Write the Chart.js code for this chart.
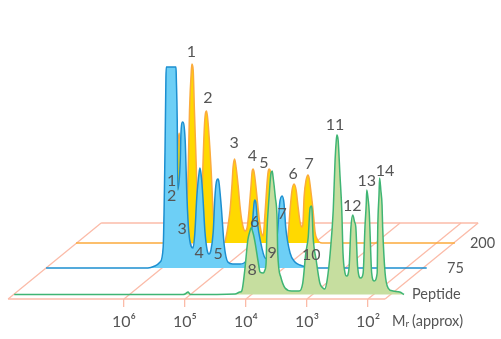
<!DOCTYPE html>
<html>

<head>
  <script src="https://cdn.jsdelivr.net/npm/chart.js"></script>
  <style>
    body { margin: 0; background: #fff; }
  </style>
</head>

<body>
  <canvas id="myChart" width="501" height="339"></canvas>
  <script>
    // log10(Mr) along the floor, peak height above each run's own baseline
    const orangeMr = [7.91, 6.53, 6.37, 6.31, 6.25, 6.22, 6.19, 6.16, 6.11, 6.07, 6.05, 6.02, 6.01, 5.99, 5.97, 5.94, 5.91, 5.86, 5.83, 5.80, 5.77, 5.75, 5.70, 5.66, 5.62, 5.52, 5.47, 5.451, 5.418, 5.385, 5.352, 5.336, 5.311, 5.287, 5.254, 5.221, 5.189, 5.139, 5.107, 5.074, 5.041, 5.025, 5.008, 4.992, 4.959, 4.926, 4.893, 4.844, 4.811, 4.779, 4.762, 4.746, 4.730, 4.697, 4.648, 4.598, 4.549, 4.484, 4.434, 4.402, 4.369, 4.336, 4.303, 4.270, 4.238, 4.205, 4.189, 4.172, 4.139, 4.107, 4.090, 4.057, 4.025, 3.992, 3.959, 3.877, 1.70];
    const orangeHeight = [0, 0, 0, 43, 93, 110, 83, 23, 18, 78, 133, 173, 179, 173, 133, 78, 18, 8, 78, 123, 132, 123, 78, 28, 3, 0, 1, 6, 18, 33, 60, 76, 84, 76, 58, 36, 21, 12, 15, 33, 58, 71, 74, 71, 55, 35, 17, 7, 31, 60, 71, 74, 73, 58, 26, 8, 2, 0, 8, 33, 53, 59, 53, 36, 21, 16, 21, 46, 63, 68, 65, 50, 33, 11, 4, 0, 0];

    const blueMr = [7.90, 6.23, 6.115, 6.03, 5.98, 5.95, 5.935, 5.93, 5.77, 5.765, 5.75, 5.74, 5.70, 5.69, 5.66, 5.62, 5.59, 5.56, 5.49, 5.46, 5.43, 5.39, 5.377, 5.352, 5.328, 5.295, 5.26, 5.23, 5.197, 5.16, 5.13, 5.10, 5.08, 5.066, 5.03, 4.98, 4.92, 4.84, 4.72, 4.61, 4.56, 4.52, 4.49, 4.48, 4.46, 4.43, 4.39, 4.31, 4.20, 4.13, 4.10, 4.07, 4.03, 4.00, 3.97, 3.90, 3.82, 3.74, 3.61, 3.49, 1.66];
    const blueHeight = [0, 0, 2, 6, 21, 118, 190, 201, 201, 190, 148, 78, 108, 133, 146, 128, 70, 36, 20, 36, 70, 96, 100, 90, 70, 36, 18, 14, 18, 36, 73, 88, 89, 86, 63, 23, 6, 4, 4, 8, 23, 43, 65, 68, 65, 43, 28, 10, 8, 23, 40, 65, 72, 65, 40, 15, 6, 3, 1, 0, 0];

    const greenMr = [7.89, 5.12, 5.09, 5.04, 5.01, 4.98, 4.27, 4.19, 4.16, 4.11, 4.06, 4.02, 4.01, 3.97, 3.94, 3.89, 3.86, 3.81, 3.78, 3.76, 3.75, 3.71, 3.68, 3.66, 3.65, 3.61, 3.58, 3.57, 3.52, 3.45, 3.34, 3.22, 3.16, 3.11, 3.07, 3.04, 3.02, 3.01, 2.99, 2.94, 2.88, 2.83, 2.80, 2.76, 2.71, 2.66, 2.63, 2.61, 2.60, 2.58, 2.55, 2.52, 2.50, 2.47, 2.44, 2.40, 2.37, 2.34, 2.31, 2.29, 2.26, 2.21, 2.17, 2.14, 2.12, 2.11, 2.09, 2.07, 2.06, 2.03, 1.99, 1.94, 1.93, 1.91, 1.90, 1.88, 1.86, 1.85, 1.81, 1.76, 1.68, 1.57, 1.50];
    const greenHeight = [0, 0, 0.5, 2.5, 0.5, 0, 0.5, 2.5, 3.5, 24.5, 54.5, 64.5, 66.5, 60.5, 51.5, 32.5, 22.5, 21.5, 24.5, 32.5, 57.5, 99.5, 121.5, 123.5, 119.5, 97.5, 74.5, 41.5, 17.5, 6.5, 3.5, 3.5, 11.5, 41.5, 57.5, 86.5, 88.5, 86.5, 57.5, 34.5, 11.5, 6.5, 5.5, 14.5, 41.5, 84.5, 134.5, 154.5, 159.5, 154.5, 119.5, 84.5, 41.5, 22.5, 18.5, 27.5, 67.5, 79.5, 72.5, 67.5, 27.5, 16.5, 21.5, 67.5, 89.5, 104.5, 96.5, 82.5, 67.5, 21.5, 13.5, 21.5, 67.5, 99.5, 116.5, 104.5, 89.5, 67.5, 21.5, 6.5, 3.5, 2.5, 0];

    // peak numbers, same units as the curves
    const orangeLabels = ['1', '2', '3', '4', '5', '6', '7'];
    const orangeLabelMr = [6.02, 5.75, 5.32, 5.02, 4.83, 4.35, 4.09];
    const orangeLabelHeight = [191, 145, 100, 87, 80, 69, 79];
    const blueLabels = ['1', '2', '3', '4', '5', '6', '7'];
    const blueLabelMr = [5.84, 5.84, 5.67, 5.39, 5.08, 4.48, 4.03];
    const blueLabelHeight = [87, 72, 39, 15, 14, 46, 54];
    const greenLabels = ['8', '9', '10', '11', '12', '13', '14'];
    const greenLabelMr = [3.99, 3.66, 3.02, 2.63, 2.35, 2.11, 1.81];
    const greenLabelHeight = [24.5, 41.5, 39.5, 169.5, 88.5, 113.5, 123.5];

    const tickMr = [6, 5, 4, 3, 2];
    const tickLabels = ['10⁶', '10⁵', '10⁴', '10³', '10²'];
    const floorLeftMr = 7.9;
    const floorRightMr = 1.72;

    // oblique floor: going to the back moves a point right and up
    const depthShiftMr = 1.525;
    const depthRise = 76;
    const orangeDepth = 0.737;
    const blueDepth = 0.408;
    const greenDepth = 0.059;

    const place = (mr, height, depth) => ({
      x: mr - depth * depthShiftMr,
      y: height + depth * depthRise
    });
    const curve = (mrs, heights, depth) => mrs.map((m, i) => place(m, heights[i], depth));

    const run = (name, mrs, heights, depth, line, fillColor, order) => ({
      label: name,
      data: curve(mrs, heights, depth),
      borderColor: line,
      backgroundColor: fillColor,
      borderWidth: 1.5,
      pointRadius: 0,
      cubicInterpolationMode: 'monotone',
      fill: { value: depth * depthRise },
      order: order
    });

    const floorLine = (a, b) => ({
      data: [a, b],
      borderColor: '#fbbba8',
      borderWidth: 1.3,
      pointRadius: 0,
      fill: false,
      order: 10
    });

    const floorLines = [
      floorLine(place(floorLeftMr, 0, 0), place(floorRightMr, 0, 0)),
      floorLine(place(floorLeftMr, 0, 1), place(floorRightMr, 0, 1)),
      floorLine(place(floorLeftMr, 0, 0), place(floorLeftMr, 0, 1)),
      floorLine(place(floorRightMr, 0, 0), place(floorRightMr, 0, 1))
    ];
    tickMr.forEach(m => floorLines.push(floorLine(place(m, 0, 0), place(m, 0, 1))));

    const textPlugin = {
      id: 'chartText',
      afterDatasetsDraw(chart) {
        const c = chart.ctx;
        const sx = chart.scales.x;
        const sy = chart.scales.y;
        c.save();
        c.fillStyle = '#555555';
        c.font = '16px Lato';
        c.textAlign = 'center';
        c.textBaseline = 'middle';
        const put = (labels, mrs, heights, depth) => labels.forEach((t, i) => {
          const p = place(mrs[i], heights[i], depth);
          c.fillText(t, sx.getPixelForValue(p.x), sy.getPixelForValue(p.y));
        });
        put(orangeLabels, orangeLabelMr, orangeLabelHeight, orangeDepth);
        put(blueLabels, blueLabelMr, blueLabelHeight, blueDepth);
        put(greenLabels, greenLabelMr, greenLabelHeight, greenDepth);

        // run names at the right hand end of each baseline
        c.textAlign = 'left';
        c.font = '14.5px Lato';
        c.fillText('200', sx.getPixelForValue(0.33), sy.getPixelForValue(56));
        c.fillText('75', sx.getPixelForValue(0.705), sy.getPixelForValue(31));
        c.fillText('Peptide', sx.getPixelForValue(1.28), sy.getPixelForValue(5));

        // axis title with subscript r
        const ty = sy.getPixelForValue(-22);
        let tx = sx.getPixelForValue(1.607);
        c.fillText('M', tx, ty);
        tx += c.measureText('M').width;
        c.font = '10px Lato';
        c.fillText('r', tx, ty + 3);
        tx += c.measureText('r').width + 3;
        c.font = '14.5px Lato';
        c.fillText('(approx)', tx, ty);
        c.restore();
      }
    };

    new Chart(document.getElementById('myChart').getContext('2d'), {
      type: 'line',
      data: {
        datasets: [
          run('200', orangeMr, orangeHeight, orangeDepth, '#fbab3c', '#ffd900', 3),
          run('75', blueMr, blueHeight, blueDepth, '#1c8fd0', '#6dcff6', 2),
          run('Peptide', greenMr, greenHeight, greenDepth, '#3fb574', '#c6de9f', 1),
          ...floorLines
        ]
      },
      plugins: [textPlugin],
      options: {
        responsive: false,
        animation: false,
        layout: { padding: 0 },
        plugins: { legend: { display: false }, tooltip: { enabled: false } },
        elements: { line: { tension: 0 } },
        scales: {
          x: {
            type: 'linear',
            reverse: true,
            min: -0.18,
            max: 8.033,
            position: { y: 0 },
            afterBuildTicks: axis => { axis.ticks = tickMr.map(v => ({ value: v })); },
            grid: { drawOnChartArea: false, drawTicks: true, tickLength: 8, color: '#fbbba8', lineWidth: 1.3 },
            border: { display: false },
            ticks: {
              autoSkip: false,
              maxRotation: 0,
              padding: 5,
              color: '#555555',
              font: { family: 'Lato', size: 16 },
              callback: v => tickLabels[tickMr.indexOf(v)]
            }
          },
          y: {
            type: 'linear',
            display: false,
            min: -40,
            max: 299
          }
        }
      }
    });
  </script>
</body>

</html>
